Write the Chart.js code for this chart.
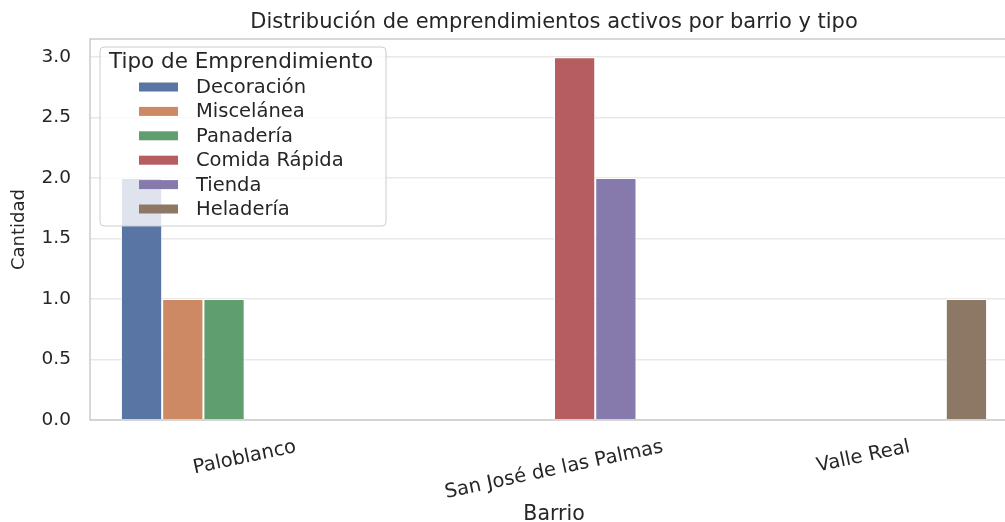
<!DOCTYPE html>
<html>
<head>
<meta charset="utf-8">
<script src="https://cdn.jsdelivr.net/npm/chart.js@4.4.1/dist/chart.umd.min.js"></script>
<style>
  html, body { margin: 0; padding: 0; background: #fff; overflow: hidden; }
  #wrap { width: 1025px; height: 522px; position: relative; }
</style>
</head>
<body>
<div id="wrap"><canvas id="chart"></canvas></div>
<script>
// datos
const barrios = ['Paloblanco', 'San José de las Palmas', 'Valle Real'];
const tipos = ['Decoración', 'Miscelánea', 'Panadería', 'Comida Rápida', 'Tienda', 'Heladería'];
const decoracion = [2, null, null];
const miscelanea = [1, null, null];
const panaderia = [1, null, null];
const comidaRapida = [null, 3, null];
const tienda = [null, 2, null];
const heladeria = [null, null, 1];
const yTicks = [0, 0.5, 1.0, 1.5, 2.0, 2.5, 3.0];

const titulo = 'Distribución de emprendimientos activos por barrio y tipo';
const tituloLeyenda = 'Tipo de Emprendimiento';
// paleta "deep" de seaborn con saturación 0.75
const colores = ['#5975a4', '#cc8963', '#5f9e6e', '#b55d60', '#857aab', '#8d7866'];
const FONT = '"DejaVu Sans", sans-serif';
const TEXT = '#262626';

Chart.defaults.font.family = FONT;
Chart.defaults.color = TEXT;

// título, etiquetas del eje x, marco y leyenda
const overlay = {
  id: 'overlay',
  afterDraw(chart) {
    const { ctx, chartArea: a, scales: { x } } = chart;
    const cx = (a.left + a.right) / 2;
    ctx.save();

    ctx.strokeStyle = '#cccccc';
    ctx.lineWidth = 1.5;
    ctx.strokeRect(a.left, a.top, a.right - a.left, a.bottom - a.top);

    ctx.fillStyle = TEXT;
    ctx.textAlign = 'center';
    ctx.textBaseline = 'alphabetic';
    ctx.font = '21px ' + FONT;
    ctx.fillText(titulo, cx, 28);

    // etiquetas rotadas, centradas en cada tick
    ctx.font = '19.5px ' + FONT;
    const ang = 12 * Math.PI / 180;
    barrios.forEach((b, i) => {
      const w = ctx.measureText(b).width;
      const bh = w * Math.sin(ang) + 14 * Math.cos(ang);
      ctx.save();
      ctx.translate(x.getPixelForValue(i), a.bottom + 20 + bh / 2);
      ctx.rotate(-ang);
      ctx.textBaseline = 'middle';
      ctx.fillText(b, 0, 0);
      ctx.restore();
    });

    ctx.font = '20.5px ' + FONT;
    ctx.fillText('Barrio', cx, 520);

    // leyenda
    ctx.beginPath();
    ctx.roundRect(100, 47, 286, 179, 4);
    ctx.fillStyle = 'rgba(255,255,255,0.8)';
    ctx.fill();
    ctx.strokeStyle = '#cccccc';
    ctx.lineWidth = 1;
    ctx.stroke();

    ctx.fillStyle = TEXT;
    ctx.textAlign = 'left';
    ctx.textBaseline = 'middle';
    ctx.font = '21.5px ' + FONT;
    ctx.fillText(tituloLeyenda, 109, 62);
    ctx.font = '19.5px ' + FONT;
    tipos.forEach((t, i) => {
      const y = 87 + i * 24.4;
      ctx.fillStyle = colores[i];
      ctx.fillRect(139, y - 4.5, 39, 9);
      ctx.fillStyle = TEXT;
      ctx.fillText(t, 196, y + 1);
    });
    ctx.restore();
  }
};

const series = [decoracion, miscelanea, panaderia, comidaRapida, tienda, heladeria];

new Chart(document.getElementById('chart'), {
  type: 'bar',
  data: {
    labels: barrios,
    datasets: tipos.map((t, i) => ({
      label: t,
      data: series[i],
      backgroundColor: colores[i],
      borderColor: '#ffffff',
      borderWidth: 1,
      categoryPercentage: 0.8,
      barPercentage: 1.0,
    })),
  },
  options: {
    responsive: true,
    maintainAspectRatio: false,
    animation: false,
    layout: { padding: { top: 39, right: 7, left: 0, bottom: 0 } },
    plugins: {
      legend: { display: false },
      title: { display: false },
      tooltip: { enabled: false },
    },
    scales: {
      x: {
        type: 'category',
        grid: { display: false },
        border: { display: false },
        ticks: { display: false },
        afterFit: (axis) => { axis.height = 102; },
      },
      y: {
        min: 0,
        max: 3.15,
        afterBuildTicks: (axis) => { axis.ticks = yTicks.map((v) => ({ value: v })); },
        afterFit: (axis) => { axis.width = 90; },
        grid: { color: '#e8e8e8', lineWidth: 1.4, drawTicks: false },
        border: { display: false },
        ticks: {
          padding: 19,
          font: { size: 18.5 },
          color: TEXT,
          callback: (v) => Number(v).toFixed(1),
        },
        title: {
          display: true,
          text: 'Cantidad',
          font: { size: 18 },
          color: TEXT,
          padding: { top: 9, bottom: 0 },
        },
      },
    },
  },
  plugins: [overlay],
});
</script>
</body>
</html>
